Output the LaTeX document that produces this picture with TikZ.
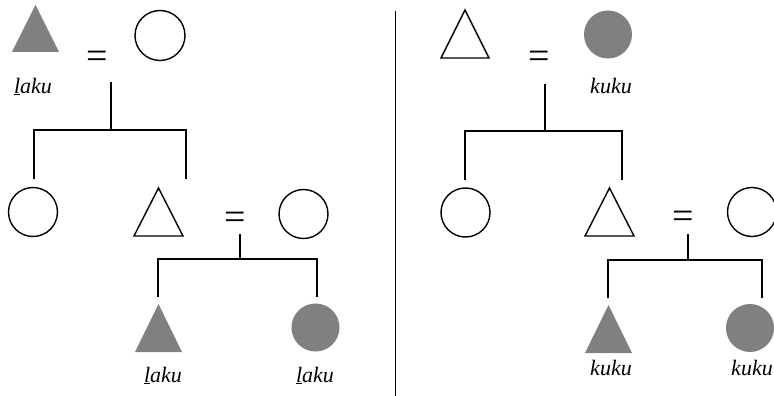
\documentclass[tikz,border=0pt]{standalone}
\usepackage{fontspec}
\setmainfont{Liberation Serif}
\definecolor{kgray}{RGB}{128,128,128}
\begin{document}
\begin{tikzpicture}[x=1pt,y=-1pt,
  kin/.style={line width=1.6pt,black},
  opencirc/.style={circle,draw=black,line width=1.4pt,inner sep=0pt,minimum size=48pt},
  fullcirc/.style={circle,fill=kgray,inner sep=0pt,minimum size=48pt},
  opentri/.style={draw=black,line width=1.4pt,line join=miter},
  fulltri/.style={fill=kgray},
  eqsign/.style={inner sep=0pt,font=\fontsize{38}{38}\selectfont},
  lbl/.style={inner sep=0pt,anchor=base,font=\fontsize{22}{22}\selectfont\itshape}]
\useasboundingbox (0,0) rectangle (774,396);
\clip (0,0) rectangle (774,396);
% ---------- left panel ----------
\coordinate (A) at (35.5,28.5);
\fill[fulltri,shift={(A)}] (-23.5,23.5) -- (0,-23.5) -- (23.5,23.5) -- cycle;
\node[eqsign] (eqA) at (97,60) {=};
\node[opencirc,minimum size=50pt] (B) at (160,35.5) {};
\node[lbl] (lA) at (33,93) {\underline{l}aku};
\coordinate (dA1) at (111,82);
\coordinate (dA2) at (111,130);
\coordinate (bA1) at (34,130);
\coordinate (bA2) at (186,130);
\coordinate (cA1) at (34,179);
\coordinate (cA2) at (186,179);
\draw[kin] (dA1) -- (dA2);
\draw[kin] (cA1) -- (bA1) -- (bA2) -- (cA2);
\node[opencirc,minimum size=49pt] (C) at (33,212) {};
\coordinate (D) at (158.5,212);
\draw[opentri,shift={(D)}] (-24.5,24) -- (0,-24) -- (24.5,24) -- cycle;
\node[eqsign] (eqD) at (235,221) {=};
\node[opencirc,minimum size=49pt] (E) at (303.5,214) {};
\coordinate (dD1) at (240,234);
\coordinate (dD2) at (240,259);
\coordinate (bD1) at (158,259);
\coordinate (bD2) at (317,259);
\coordinate (cD1) at (158,297);
\coordinate (cD2) at (317,297);
\draw[kin] (dD1) -- (dD2);
\draw[kin] (cD1) -- (bD1) -- (bD2) -- (cD2);
\coordinate (F) at (158.5,328);
\fill[fulltri,shift={(F)}] (-23.5,24) -- (0,-24) -- (23.5,24) -- cycle;
\node[fullcirc] (G) at (315.5,327.5) {};
\node[lbl] (lF) at (163,382) {\underline{l}aku};
\node[lbl] (lG) at (315,382) {\underline{l}aku};
% ---------- divider ----------
\coordinate (v1) at (395.5,11);
\coordinate (v2) at (395.5,396);
\draw[kin] (v1) -- (v2);
% ---------- right panel ----------
\coordinate (H) at (465,34);
\draw[opentri,shift={(H)}] (-24,24) -- (0,-24) -- (24,24) -- cycle;
\node[eqsign] (eqH) at (539,60) {=};
\node[fullcirc] (I) at (608,34.5) {};
\node[lbl] (lI) at (611,94) {kuku};
\coordinate (dH1) at (545,84);
\coordinate (dH2) at (545,131);
\coordinate (bH1) at (465,131);
\coordinate (bH2) at (622,131);
\coordinate (cH1) at (465,180);
\coordinate (cH2) at (622,180);
\draw[kin] (dH1) -- (dH2);
\draw[kin] (cH1) -- (bH1) -- (bH2) -- (cH2);
\node[opencirc,minimum size=49pt] (J) at (465.5,212.5) {};
\coordinate (K) at (609.5,212);
\draw[opentri,shift={(K)}] (-24.5,24) -- (0,-24) -- (24.5,24) -- cycle;
\node[eqsign] (eqK) at (683,220) {=};
\node[opencirc,minimum size=49pt] (L) at (752,212) {};
\coordinate (dK1) at (688,234);
\coordinate (dK2) at (688,260);
\coordinate (bK1) at (608,260);
\coordinate (bK2) at (762,260);
\coordinate (cK1) at (608,298);
\coordinate (cK2) at (762,298);
\draw[kin] (dK1) -- (dK2);
\draw[kin] (cK1) -- (bK1) -- (bK2) -- (cK2);
\coordinate (M) at (608.5,329);
\fill[fulltri,shift={(M)}] (-23.5,24) -- (0,-24) -- (23.5,24) -- cycle;
\node[fullcirc] (N) at (750,328) {};
\node[lbl] (lM) at (611,375) {kuku};
\node[lbl] (lN) at (752,375) {kuku};
\end{tikzpicture}
\end{document}
